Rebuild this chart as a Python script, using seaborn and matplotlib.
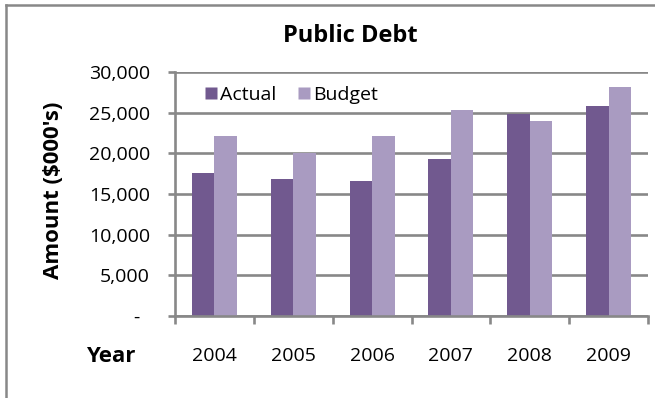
import matplotlib
matplotlib.use("Agg")
import matplotlib.pyplot as plt
import seaborn as sns
import pandas as pd
from matplotlib.ticker import FuncFormatter, FixedLocator
from matplotlib.lines import Line2D

years = ["2004", "2005", "2006", "2007", "2008", "2009"]
actual = [17600, 16800, 16600, 19300, 24800, 25800]
budget = [22100, 20100, 22100, 25300, 24000, 28100]
series_names = ["Actual", "Budget"]
colors = ["#71598F", "#A99BC1"]
yticks = [0, 5000, 10000, 15000, 20000, 25000, 30000]

df = pd.DataFrame({
    "Year": years * 2,
    "Amount": actual + budget,
    "Series": [series_names[0]] * len(years) + [series_names[1]] * len(years),
})

plt.rcParams["font.family"] = ["Open Sans", "DejaVu Sans"]

W, H = 655, 398
grid_c = "#888888"
fig, ax = plt.subplots(figsize=(W / 100, H / 100), dpi=100)
ax.set_position([175 / W, 1 - 316 / H, (648 - 175) / W, (316 - 72) / H])

sns.barplot(data=df, x="Year", y="Amount", hue="Series", palette=colors,
            width=0.57, saturation=1, ax=ax, legend=False)
ax.hlines(yticks, -0.5, len(years) - 0.5, colors=grid_c, linewidth=1.9, zorder=0.5)

ax.set_xlim(-0.5, len(years) - 0.5)
ax.set_ylim(0, 30000)
ax.set_yticks(yticks)
ax.yaxis.set_major_formatter(FuncFormatter(lambda v, p: "-  " if v == 0 else f"{int(v):,}"))

for s in ["top", "right"]:
    ax.spines[s].set_visible(False)
for s in ["left", "bottom"]:
    ax.spines[s].set_color(grid_c)
    ax.spines[s].set_linewidth(1.9)

ax.tick_params(axis="y", direction="out", length=5, width=1.9, color=grid_c,
               labelsize=14, pad=13, left=True)
ax.tick_params(axis="x", which="major", length=0, labelsize=14, pad=22)
ax.xaxis.set_minor_locator(FixedLocator([i - 0.5 for i in range(len(years) + 1)]))
ax.tick_params(axis="x", which="minor", direction="out", length=6, width=1.9,
               color=grid_c, bottom=True)
ax.set_xlabel("")
ax.set_ylabel("")

fig.text(350 / W, 1 - 36 / H, "Public Debt", ha="center", va="center",
         fontsize=17, fontweight="bold")
fig.text(54 / W, 1 - 190 / H, "Amount ($000's)", ha="center", va="center",
         rotation=90, fontsize=16, fontweight="bold")
fig.text(111 / W, 1 - 357 / H, "Year", ha="center", va="center",
         fontsize=16, fontweight="bold")

handles = [Line2D([], [], marker="s", linestyle="none", markersize=9,
                  markerfacecolor=c, markeredgecolor="none") for c in colors]
ax.legend(handles, series_names, loc="upper left", bbox_to_anchor=(0.03, 1.0),
          frameon=False, ncol=2, fontsize=14, handletextpad=0.1,
          columnspacing=1.0, borderaxespad=0.3, handlelength=0.8)

# outer chart border (left and top)
fig.add_artist(Line2D([6 / W, 6 / W], [0, 1 - 5 / H], transform=fig.transFigure,
                      color=grid_c, linewidth=1.8))
fig.add_artist(Line2D([6 / W, 1], [1 - 5 / H, 1 - 5 / H], transform=fig.transFigure,
                      color=grid_c, linewidth=1.8))

fig.savefig("out.png", dpi=100)
